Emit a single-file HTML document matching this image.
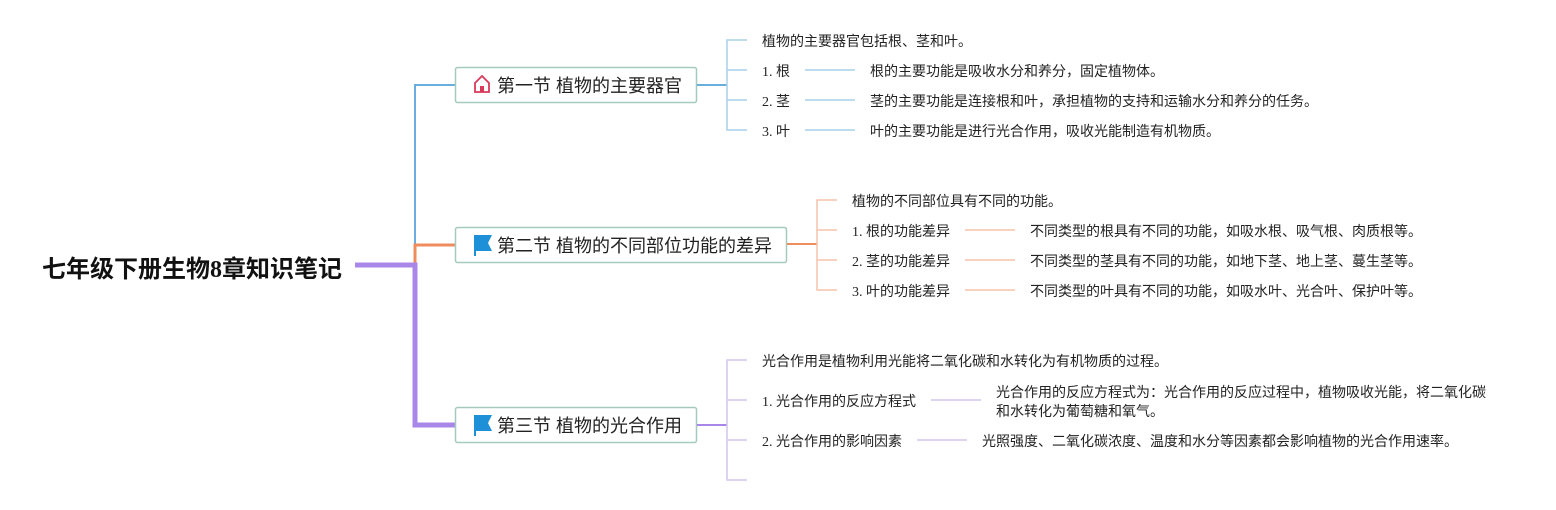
<!DOCTYPE html>
<html><head><meta charset="utf-8"><style>
html,body{margin:0;padding:0;background:#fff;}
svg text{font-family:"Liberation Serif","Noto Sans CJK SC",sans-serif;fill:#222;}
.s{font-size:14px;}
.b{font-family:"Liberation Sans","Noto Sans CJK SC",sans-serif !important;font-size:18px;}
</style></head><body>
<svg width="1556" height="505" viewBox="0 0 1556 505" xmlns="http://www.w3.org/2000/svg">
<text x="42" y="277" style="font-family:'Liberation Serif','Noto Sans CJK SC',sans-serif;font-size:24px;font-weight:bold;fill:#111">七年级下册生物8章知识笔记</text>
<path d="M415 245 V85 H455" fill="none" stroke="#6aaedc" stroke-width="2"/>
<path d="M415 265 V245 H455" fill="none" stroke="#ee8c5e" stroke-width="3"/>
<path d="M355 265 H415 V425 H455" fill="none" stroke="#a987e8" stroke-width="5"/>
<rect x="455.5" y="67.5" width="241" height="35" rx="2" fill="#fff" stroke="#a6c9bd" stroke-width="1.5"/>
<rect x="455.5" y="227.5" width="331" height="35" rx="2" fill="#fff" stroke="#a6c9bd" stroke-width="1.5"/>
<rect x="455.5" y="407.5" width="241" height="35" rx="2" fill="#fff" stroke="#a6c9bd" stroke-width="1.5"/>
<path d="M475 92 V83 L482 76 L489 83 V92 Z" fill="none" stroke="#d83a5a" stroke-width="1.8"/>
<rect x="480" y="86" width="4" height="6" fill="#d83a5a"/>
<path d="M474 235 H492 L488 243 L492 251 H476 V256 H474 Z" fill="#1e90d8"/>
<path d="M474 415 H492 L488 423 L492 431 H476 V436 H474 Z" fill="#1e90d8"/>
<text class="b" x="497" y="92">第一节 植物的主要器官</text>
<text class="b" x="497" y="252">第二节 植物的不同部位功能的差异</text>
<text class="b" x="497" y="432">第三节 植物的光合作用</text>
<g fill="none" stroke="#a9d0ea" stroke-width="1.5">
<path d="M697 85 H727" stroke="#6aaedc" stroke-width="2"/>
<path d="M747 40 H727 V130 H747 M727 70 H747 M727 100 H747"/>
<path d="M805 70 H855 M805 100 H855 M805 130 H855"/>
</g>
<text class="s" x="762" y="46">植物的主要器官包括根、茎和叶。</text>
<text class="s" x="762" y="76">1. 根</text>
<text class="s" x="762" y="106">2. 茎</text>
<text class="s" x="762" y="136">3. 叶</text>
<text class="s" x="870" y="76">根的主要功能是吸收水分和养分，固定植物体。</text>
<text class="s" x="870" y="106">茎的主要功能是连接根和叶，承担植物的支持和运输水分和养分的任务。</text>
<text class="s" x="870" y="136">叶的主要功能是进行光合作用，吸收光能制造有机物质。</text>
<g fill="none" stroke="#f5c3a8" stroke-width="1.5">
<path d="M787 244 H817" stroke="#ee8c5e" stroke-width="2"/>
<path d="M837 200 H817 V290 H837 M817 230 H837 M817 260 H837"/>
<path d="M965 230 H1015 M965 260 H1015 M965 290 H1015"/>
</g>
<text class="s" x="852" y="206">植物的不同部位具有不同的功能。</text>
<text class="s" x="852" y="236">1. 根的功能差异</text>
<text class="s" x="852" y="266">2. 茎的功能差异</text>
<text class="s" x="852" y="296">3. 叶的功能差异</text>
<text class="s" x="1030" y="236">不同类型的根具有不同的功能，如吸水根、吸气根、肉质根等。</text>
<text class="s" x="1030" y="266">不同类型的茎具有不同的功能，如地下茎、地上茎、蔓生茎等。</text>
<text class="s" x="1030" y="296">不同类型的叶具有不同的功能，如吸水叶、光合叶、保护叶等。</text>
<g fill="none" stroke="#d3c6ee" stroke-width="1.5">
<path d="M697 425 H727" stroke="#a987e8" stroke-width="2"/>
<path d="M747 360 H727 V480 H747 M727 400 H747 M727 440 H747"/>
<path d="M931 400 H981 M917 440 H967"/>
</g>
<text class="s" x="762" y="366">光合作用是植物利用光能将二氧化碳和水转化为有机物质的过程。</text>
<text class="s" x="762" y="406">1. 光合作用的反应方程式</text>
<text class="s" x="762" y="446">2. 光合作用的影响因素</text>
<text class="s" x="996" y="397">光合作用的反应方程式为：光合作用的反应过程中，植物吸收光能，将二氧化碳</text>
<text class="s" x="996" y="416">和水转化为葡萄糖和氧气。</text>
<text class="s" x="982" y="446">光照强度、二氧化碳浓度、温度和水分等因素都会影响植物的光合作用速率。</text>
</svg>
</body></html>
